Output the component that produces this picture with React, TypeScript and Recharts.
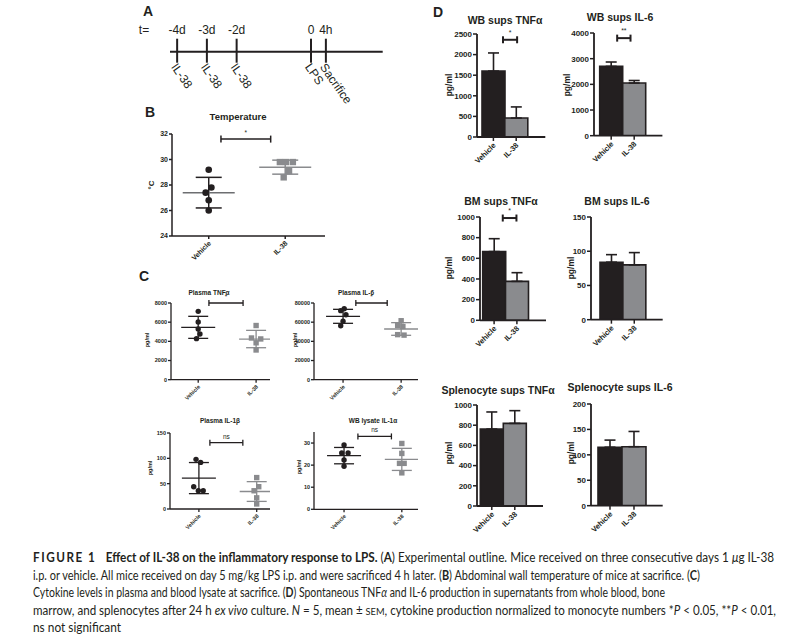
import React from "react";
import {
  Bar,
  BarChart,
  Cell,
  ErrorBar,
  LineChart,
  ReferenceLine,
  Scatter,
  ScatterChart,
  XAxis,
  YAxis,
} from "recharts";

const FONT = "Arial, 'Liberation Sans', Helvetica, sans-serif";
const INK = "#231f20";
const GREY = "#8a8b8e";
const MEAN_GREY = "#6d6e71";

const GROUPS = ["Vehicle", "IL-38"];

// A: experimental outline (schematic, not to scale)
const TIMELINE_POS = [0, 1, 2, 4.5, 5];
const TIMELINE_T = ["-4d", "-3d", "-2d", "0", "4h"];
const TIMELINE_EVENT = ["IL-38", "IL-38", "IL-38", "LPS", "Sacrifice"];

// B: temperature, °C
const tempVeh = [29.2, 27.8, 27.4, 26.8, 26.0];
const tempVehX = [1, 1.035, 0.96, 1, 1];
const tempIL = [29.8, 29.8, 29.8, 29.1, 28.6];
const tempILX = [1.93, 2.01, 2.1, 2.05, 1.98];
const tempMean = [27.4, 29.4];
const tempSD = [1.2, 0.55];

// C: plasma / lysate cytokines, pg/ml
const tnfPlasmaVeh = [7130, 6020, 5290, 4770, 4280];
const tnfPlasmaVehX = [1, 1, 1, 1.03, 0.97];
const tnfPlasmaIL = [5650, 4350, 4250, 3850, 3100];
const tnfPlasmaILX = [2, 1.92, 2.08, 2, 2];
const tnfPlasmaMean = [5460, 4240];
const tnfPlasmaSD = [1150, 905];

const il6PlasmaVeh = [74000, 72000, 67800, 60900, 56300];
const il6PlasmaVehX = [1.02, 0.96, 1.05, 1, 0.96];
const il6PlasmaIL = [61500, 56500, 55500, 47000, 46500];
const il6PlasmaILX = [2, 1.94, 2.03, 1.94, 2.05];
const il6PlasmaMean = [66100, 52900];
const il6PlasmaSD = [7300, 6600];

const il1bPlasmaVeh = [98, 92, 44, 36, 36];
const il1bPlasmaVehX = [0.95, 1.03, 0.91, 0.99, 1.075];
const il1bPlasmaIL = [62, 44, 36, 22, 10];
const il1bPlasmaILX = [2, 2.035, 1.955, 2, 2];
const il1bPlasmaMean = [61, 34.5];
const il1bPlasmaSD = [30.7, 19.5];

const il1aLysateVeh = [29.1, 25.5, 25.5, 22.3, 19.5];
const il1aLysateVehX = [1, 0.96, 1.07, 1, 1];
const il1aLysateIL = [29.8, 25.3, 20.8, 20.8, 16.5];
const il1aLysateILX = [2, 2, 1.96, 2.04, 2];
const il1aLysateMean = [24.3, 22.6];
const il1aLysateSD = [3.7, 5.0];

// D: supernatants, mean and SEM, pg/ml
const wbTnfMean = [1600, 460];
const wbTnfSem = [440, 270];
const wbIl6Mean = [2700, 2050];
const wbIl6Sem = [170, 100];
const bmTnfMean = [665, 377];
const bmTnfSem = [125, 84];
const bmIl6Mean = [84, 80];
const bmIl6Sem = [11, 18];
const splTnfMean = [762, 818];
const splTnfSem = [169, 126];
const splIl6Mean = [115, 116];
const splIl6Sem = [14, 30];

type Geo = { ax: number; ex: number; ty: number; by: number; padL?: number; padR?: number };
const YW = 44;
const MT = 24;
const MR = 6;
const XH = 44;

function boxOf(g: Geo) {
  const left = g.ax - YW;
  const top = g.ty - MT;
  return { left, top, width: g.ex - left + MR, height: g.by - top + XH };
}

function Txt({ x, y, size, bold = true, rotate = 0, children }: any) {
  return (
    <div
      style={{
        position: "absolute",
        left: x,
        top: y,
        transform: `translate(-50%, -50%) rotate(${rotate}deg)`,
        fontSize: size,
        fontWeight: bold ? 700 : 400,
        fontFamily: FONT,
        color: INK,
        whiteSpace: "nowrap",
        lineHeight: 1,
      }}
    >
      {children}
    </div>
  );
}

const rotTick = (fs: number, fmt: (v: any) => string) => (p: any) => (
  <g transform={`translate(${p.x + 1},${p.y + 1}) rotate(-45)`}>
    <text textAnchor="end" fontSize={fs} fontWeight={700} fontFamily={FONT} fill={INK} dy="0.35em">
      {fmt(p.payload.value)}
    </text>
  </g>
);

// bracket ends given in group units (1 = Vehicle, 2 = IL-38), mapped between the
// two group positions that the library's x scale returns for the segment
const bracketShape = (a: number, b: number, label: string, tick: number, sw: number, fs: number, gap: number) => (
  p: any
) => {
  const span = p.x2 - p.x1;
  const x1 = p.x1 + (a - 1) * span;
  const x2 = p.x1 + (b - 1) * span;
  const y = p.y1;
  return (
    <g>
      <line x1={x1} y1={y} x2={x2} y2={y} stroke={INK} strokeWidth={sw} />
      <line x1={x1} y1={y - tick} x2={x1} y2={y + tick} stroke={INK} strokeWidth={sw} />
      <line x1={x2} y1={y - tick} x2={x2} y2={y + tick} stroke={INK} strokeWidth={sw} />
      <text x={(x1 + x2) / 2} y={y - gap} textAnchor="middle" fontSize={fs} fontFamily={FONT} fill={INK}>
        {label}
      </text>
    </g>
  );
};

type Sizes = {
  tick: number;
  xlab: number;
  r: number;
  sq: number;
  meanHalf: number;
  capHalf: number;
  axis: number;
  btick: number;
  sig: number;
  sigGap: number;
};

function ScatterPanel({ geo, xDomain, yDomain, yTicks, veh, vehX, il, ilX, mean, sd, bracket, s, vehMeanColor = INK }: any) {
  const b = boxOf(geo);
  const sz: Sizes = s;
  const vehPts = veh.map((y: number, i: number) => ({ x: vehX[i], y }));
  const ilPts = il.map((y: number, i: number) => ({ x: ilX[i], y }));
  const vehMean = [{ x: 1, y: mean[0], sd: sd[0] }];
  const ilMean = [{ x: 2, y: mean[1], sd: sd[1] }];
  const meanShape = (color: string) => (p: any) => (
    <line x1={p.cx - sz.meanHalf} x2={p.cx + sz.meanHalf} y1={p.cy} y2={p.cy} stroke={color} strokeWidth={sz.axis} />
  );
  return (
    <div style={{ position: "absolute", left: b.left, top: b.top }}>
      <ScatterChart width={b.width} height={b.height} margin={{ top: MT, right: MR, left: 0, bottom: 0 }}>
        <XAxis
          type="number"
          dataKey="x"
          domain={xDomain}
          ticks={[1, 2]}
          allowDataOverflow
          height={XH}
          tickSize={3}
          interval={0}
          axisLine={{ stroke: INK, strokeWidth: sz.axis }}
          tickLine={{ stroke: INK, strokeWidth: sz.axis }}
          tick={rotTick(sz.xlab, (v) => GROUPS[v - 1])}
        />
        <YAxis
          type="number"
          dataKey="y"
          domain={yDomain}
          ticks={yTicks}
          allowDataOverflow
          width={YW}
          tickSize={3}
          tickMargin={1}
          interval={0}
          axisLine={{ stroke: INK, strokeWidth: sz.axis }}
          tickLine={{ stroke: INK, strokeWidth: sz.axis }}
          tick={{ fontSize: sz.tick, fontWeight: 700, fill: INK, fontFamily: FONT }}
        />
        <Scatter data={vehMean} isAnimationActive={false} shape={meanShape(vehMeanColor)}>
          <ErrorBar dataKey="sd" direction="y" width={sz.capHalf} stroke={INK} strokeWidth={sz.axis} />
        </Scatter>
        <Scatter data={ilMean} isAnimationActive={false} shape={meanShape(GREY)}>
          <ErrorBar dataKey="sd" direction="y" width={sz.capHalf} stroke={GREY} strokeWidth={sz.axis} />
        </Scatter>
        <Scatter
          data={vehPts}
          isAnimationActive={false}
          shape={(p: any) => <circle cx={p.cx} cy={p.cy} r={sz.r} fill={INK} />}
        />
        <Scatter
          data={ilPts}
          isAnimationActive={false}
          shape={(p: any) => (
            <rect x={p.cx - sz.sq / 2} y={p.cy - sz.sq / 2} width={sz.sq} height={sz.sq} fill={GREY} />
          )}
        />
        <ReferenceLine
          ifOverflow="visible"
          segment={[
            { x: 1, y: bracket[2] },
            { x: 2, y: bracket[2] },
          ]}
          shape={bracketShape(bracket[0], bracket[1], bracket[3], sz.btick, sz.axis, sz.sig, sz.sigGap)}
        />
      </ScatterChart>
    </div>
  );
}

function BarPanel({ geo, yTicks, mean, sem, bracket }: any) {
  const b = boxOf(geo);
  const rows = GROUPS.map((name, i) => ({ name, mean: mean[i], err: [0, sem[i]] }));
  return (
    <div style={{ position: "absolute", left: b.left, top: b.top }}>
      <BarChart
        width={b.width}
        height={b.height}
        data={rows}
        margin={{ top: MT, right: MR, left: 0, bottom: 0 }}
        barCategoryGap={0}
        barGap={0}
      >
        <XAxis
          dataKey="name"
          height={XH}
          padding={{ left: geo.padL, right: geo.padR }}
          tickSize={4}
          interval={0}
          axisLine={{ stroke: INK, strokeWidth: 1.8 }}
          tickLine={{ stroke: INK, strokeWidth: 1.5 }}
          tick={rotTick(7.5, (v) => v)}
        />
        <YAxis
          type="number"
          domain={[yTicks[0], yTicks[yTicks.length - 1]]}
          ticks={yTicks}
          allowDataOverflow
          width={YW}
          tickSize={4}
          tickMargin={1}
          interval={0}
          axisLine={{ stroke: INK, strokeWidth: 1.8 }}
          tickLine={{ stroke: INK, strokeWidth: 1.5 }}
          tick={{ fontSize: 8, fontWeight: 700, fill: INK, fontFamily: FONT }}
        />
        <Bar dataKey="mean" stroke={INK} strokeWidth={1.6} isAnimationActive={false}>
          {rows.map((r, i) => (
            <Cell key={r.name} fill={i === 0 ? INK : GREY} />
          ))}
          <ErrorBar dataKey="err" direction="y" width={5.5} stroke={INK} strokeWidth={1.6} />
        </Bar>
        {bracket && (
          <ReferenceLine
            ifOverflow="visible"
            segment={[
              { x: GROUPS[0], y: bracket[2] },
              { x: GROUPS[1], y: bracket[2] },
            ]}
            shape={bracketShape(bracket[0], bracket[1], bracket[3], 3.5, 2, 7, 5)}
          />
        )}
      </BarChart>
    </div>
  );
}

function Timeline() {
  const rows = TIMELINE_POS.map((pos, i) => ({ pos, t: TIMELINE_T[i], what: TIMELINE_EVENT[i], y: 0 }));
  const eventTick = (p: any) => {
    const i = TIMELINE_POS.indexOf(p.payload.value);
    return (
      <g>
        <line x1={p.x} x2={p.x} y1={p.y - 24} y2={p.y - 11} stroke={INK} strokeWidth={2} />
        <text x={p.x} y={p.y - 29} textAnchor="middle" fontSize={12} fontFamily={FONT} fill={INK}>
          {TIMELINE_T[i]}
        </text>
        <g transform={`translate(${p.x - 3},${p.y + 2}) rotate(55)`}>
          <text fontSize={12} fontFamily={FONT} fill={INK} dy="0.35em">
            {TIMELINE_EVENT[i]}
          </text>
        </g>
      </g>
    );
  };
  return (
    <div style={{ position: "absolute", left: 130, top: 10 }}>
      <LineChart width={260} height={97} data={rows} margin={{ top: 29, right: 7.3, left: 40, bottom: 0 }}>
        <XAxis
          type="number"
          dataKey="pos"
          domain={[-0.24, 6.91]}
          ticks={TIMELINE_POS}
          interval={0}
          allowDataOverflow
          height={55.3}
          tickSize={11}
          tickMargin={0}
          axisLine={{ stroke: INK, strokeWidth: 2 }}
          tickLine={{ stroke: INK, strokeWidth: 2 }}
          tick={eventTick}
        />
        <YAxis hide dataKey="y" domain={[0, 1]} allowDataOverflow width={0} />
      </LineChart>
    </div>
  );
}

const C_SIZES: Sizes = { tick: 5.5, xlab: 5.5, r: 2.7, sq: 5.4, meanHalf: 17, capHalf: 10, axis: 1.3, btick: 3, sig: 6.5, sigGap: 4 };
const B_SIZES: Sizes = { tick: 7, xlab: 7, r: 3.3, sq: 6.4, meanHalf: 26, capHalf: 13, axis: 1.5, btick: 3.5, sig: 6.5, sigGap: 4 };

export default function App() {
  const b = (s: string) => <tspan fontWeight={700}>{s}</tspan>;
  const it = (s: string) => <tspan fontStyle="italic">{s}</tspan>;
  return (
    <div
      style={{
        position: "absolute",
        left: 0,
        top: 0,
        width: 811,
        height: 639,
        background: "#fff",
        overflow: "hidden",
        fontFamily: FONT,
      }}
    >
      {/* panel letters */}
      <Txt x={148} y={11} size={14}>A</Txt>
      <Txt x={150} y={112} size={14}>B</Txt>
      <Txt x={144} y={276} size={14}>C</Txt>
      <Txt x={438} y={12} size={14}>D</Txt>

      {/* A */}
      <Txt x={144} y={30} size={12} bold={false}>t=</Txt>
      <Timeline />

      {/* B */}
      <Txt x={238} y={117} size={9.5}>Temperature</Txt>
      <Txt x={152} y={185} size={8} rotate={-90}>°C</Txt>
      <ScatterPanel
        geo={{ ax: 172, ex: 325, ty: 134, by: 236 }}
        xDomain={[0.52, 2.52]}
        yDomain={[24, 32]}
        yTicks={[24, 26, 28, 30, 32]}
        veh={tempVeh}
        vehX={tempVehX}
        il={tempIL}
        ilX={tempILX}
        mean={tempMean}
        sd={tempSD}
        bracket={[1.16, 1.81, 31.6, "*"]}
        s={B_SIZES}
        vehMeanColor={MEAN_GREY}
      />

      {/* C */}
      <Txt x={209} y={293} size={6.5}>Plasma TNFα</Txt>
      <Txt x={148} y={340} size={5.5} rotate={-90}>pg/ml</Txt>
      <ScatterPanel
        geo={{ ax: 171, ex: 270, ty: 303.3, by: 380 }}
        xDomain={[0.53, 2.24]}
        yDomain={[0, 8000]}
        yTicks={[0, 2000, 4000, 6000, 8000]}
        veh={tnfPlasmaVeh}
        vehX={tnfPlasmaVehX}
        il={tnfPlasmaIL}
        ilX={tnfPlasmaILX}
        mean={tnfPlasmaMean}
        sd={tnfPlasmaSD}
        bracket={[1.185, 1.775, 8000, "*"]}
        s={C_SIZES}
      />
      <Txt x={356} y={293} size={6.5}>Plasma IL-6</Txt>
      <Txt x={296} y={340} size={5.5} rotate={-90}>pg/ml</Txt>
      <ScatterPanel
        geo={{ ax: 314, ex: 418, ty: 303.3, by: 380 }}
        xDomain={[0.5, 2.29]}
        yDomain={[0, 80000]}
        yTicks={[0, 20000, 40000, 60000, 80000]}
        veh={il6PlasmaVeh}
        vehX={il6PlasmaVehX}
        il={il6PlasmaIL}
        ilX={il6PlasmaILX}
        mean={il6PlasmaMean}
        sd={il6PlasmaSD}
        bracket={[1.22, 1.76, 80000, "*"]}
        s={C_SIZES}
      />
      <Txt x={220} y={421} size={6.5}>Plasma IL-1β</Txt>
      <Txt x={151} y={468} size={5.5} rotate={-90}>pg/ml</Txt>
      <ScatterPanel
        geo={{ ax: 170, ex: 270, ty: 433.3, by: 509.3 }}
        xDomain={[0.5, 2.23]}
        yDomain={[0, 150]}
        yTicks={[0, 50, 100, 150]}
        veh={il1bPlasmaVeh}
        vehX={il1bPlasmaVehX}
        il={il1bPlasmaIL}
        ilX={il1bPlasmaILX}
        mean={il1bPlasmaMean}
        sd={il1bPlasmaSD}
        bracket={[1.19, 1.76, 131, "ns"]}
        s={C_SIZES}
      />
      <Txt x={373} y={421} size={6.5}>WB lysate IL-1α</Txt>
      <Txt x={300} y={467} size={5.5} rotate={-90}>pg/ml</Txt>
      <ScatterPanel
        geo={{ ax: 314, ex: 418, ty: 431.7, by: 509 }}
        xDomain={[0.48, 2.28]}
        yDomain={[0, 35]}
        yTicks={[0, 10, 20, 30]}
        veh={il1aLysateVeh}
        vehX={il1aLysateVehX}
        il={il1aLysateIL}
        ilX={il1aLysateILX}
        mean={il1aLysateMean}
        sd={il1aLysateSD}
        bracket={[1.24, 1.82, 33, "ns"]}
        s={C_SIZES}
      />

      {/* D */}
      <Txt x={505} y={20} size={10.5}>WB sups TNFα</Txt>
      <Txt x={449} y={85} size={8.5} rotate={-90}>pg/ml</Txt>
      <BarPanel
        geo={{ ax: 476.7, ex: 545, ty: 33.7, by: 136.7, padL: 5, padR: 17.7 }}
        yTicks={[0, 500, 1000, 1500, 2000, 2500]}
        mean={wbTnfMean}
        sem={wbTnfSem}
        bracket={[1.42, 2.04, 2360, "*"]}
      />
      <Txt x={620} y={17} size={10.5}>WB sups IL-6</Txt>
      <Txt x={567} y={85} size={8.5} rotate={-90}>pg/ml</Txt>
      <BarPanel
        geo={{ ax: 594.3, ex: 662.7, ty: 33.3, by: 136, padL: 5.7, padR: 16.7 }}
        yTicks={[0, 1000, 2000, 3000, 4000]}
        mean={wbIl6Mean}
        sem={wbIl6Sem}
        bracket={[1.26, 1.84, 3800, "**"]}
      />
      <Txt x={501} y={201} size={10.5}>BM sups TNFα</Txt>
      <Txt x={449} y={268} size={8.5} rotate={-90}>pg/ml</Txt>
      <BarPanel
        geo={{ ax: 480, ex: 546, ty: 216.7, by: 320, padL: 2.7, padR: 17.7 }}
        yTicks={[0, 200, 400, 600, 800, 1000]}
        mean={bmTnfMean}
        sem={bmTnfSem}
        bracket={[1.38, 1.98, 990, "*"]}
      />
      <Txt x={617} y={201} size={10.5}>BM sups IL-6</Txt>
      <Txt x={571} y={268} size={8.5} rotate={-90}>pg/ml</Txt>
      <BarPanel
        geo={{ ax: 591, ex: 662.7, ty: 217.3, by: 320, padL: 9, padR: 17 }}
        yTicks={[0, 50, 100, 150]}
        mean={bmIl6Mean}
        sem={bmIl6Sem}
      />
      <Txt x={498} y={390} size={10.5}>Splenocyte sups TNFα</Txt>
      <Txt x={449} y={453} size={8.5} rotate={-90}>pg/ml</Txt>
      <BarPanel
        geo={{ ax: 476.7, ex: 542.7, ty: 405, by: 506, padL: 3.3, padR: 16.7 }}
        yTicks={[0, 200, 400, 600, 800, 1000]}
        mean={splTnfMean}
        sem={splTnfSem}
      />
      <Txt x={620} y={387} size={10.5}>Splenocyte sups IL-6</Txt>
      <Txt x={571} y={453} size={8.5} rotate={-90}>pg/ml</Txt>
      <BarPanel
        geo={{ ax: 591, ex: 662.7, ty: 404.3, by: 506, padL: 7, padR: 16.7 }}
        yTicks={[0, 50, 100, 150, 200]}
        mean={splIl6Mean}
        sem={splIl6Sem}
      />

      {/* caption */}
      <svg width={811} height={94} style={{ position: "absolute", left: 0, top: 545 }}>
        <g fontFamily="Lato, 'Open Sans', sans-serif" fontSize={12.5} fill={INK}>
          <text x={33} y={17} textLength={741} lengthAdjust="spacingAndGlyphs">
            <tspan fontWeight={700} letterSpacing={1.6}>FIGURE 1</tspan>
            <tspan dx={10} fontWeight={700}>Effect of IL-38 on the inflammatory response to LPS.</tspan>
            {" ("}{b("A")}{") Experimental outline. Mice received on three consecutive days 1 "}{it("μ")}{"g IL-38"}
          </text>
          <text x={33} y={35} textLength={667} lengthAdjust="spacingAndGlyphs">
            {"i.p. or vehicle. All mice received on day 5 mg/kg LPS i.p. and were sacrificed 4 h later. ("}{b("B")}
            {") Abdominal wall temperature of mice at sacrifice. ("}{b("C")}{")"}
          </text>
          <text x={33} y={52} textLength={632} lengthAdjust="spacingAndGlyphs">
            {"Cytokine levels in plasma and blood lysate at sacrifice. ("}{b("D")}{") Spontaneous TNF"}{it("α")}
            {" and IL-6 production in supernatants from whole blood, bone"}
          </text>
          <text x={33} y={70} textLength={743} lengthAdjust="spacingAndGlyphs">
            {"marrow, and splenocytes after 24 h "}{it("ex vivo")}{" culture. "}{it("N")}{" = 5, mean ± "}
            <tspan fontSize={10}>SEM</tspan>
            {", cytokine production normalized to monocyte numbers *"}{it("P")}{" < 0.05, **"}{it("P")}{" < 0.01,"}
          </text>
          <text x={33} y={87} textLength={88} lengthAdjust="spacingAndGlyphs">
            ns not significant
          </text>
        </g>
      </svg>
    </div>
  );
}
